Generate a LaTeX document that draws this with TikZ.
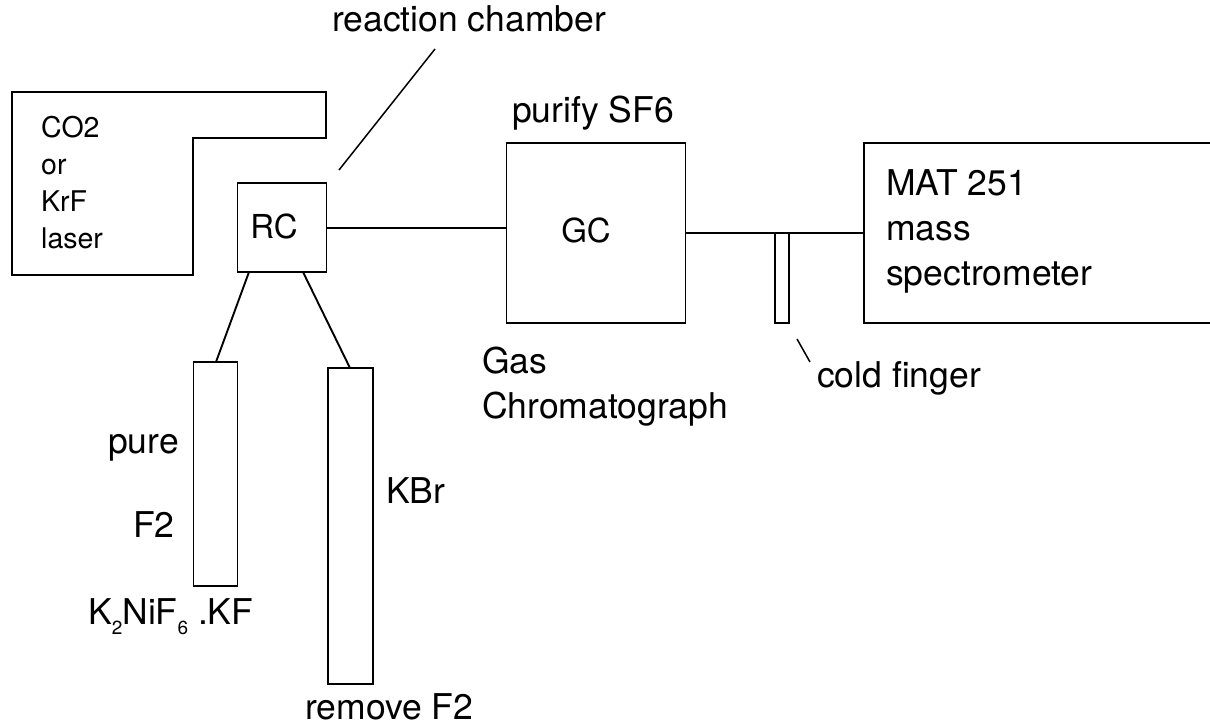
\documentclass[tikz,border=0pt]{standalone}
\usepackage{fontspec}
\setmainfont{TeX Gyre Heros}
\begin{document}
\begin{tikzpicture}[x=1pt,y=-1pt,
  ln/.style={line width=1.9pt},
  pt/.style={line width=1.5pt},
  bx/.style={draw,line width=1.9pt,inner sep=0pt,outer sep=0pt},
  lbl/.style={anchor=base west,inner sep=0pt,font=\fontsize{35.5}{40}\selectfont},
  blbl/.style={anchor=center,inner sep=0pt,font=\fontsize{33}{40}\selectfont},
  slbl/.style={anchor=base west,inner sep=0pt,font=\fontsize{28.5}{36}\selectfont}]
\useasboundingbox (0,0) rectangle (1210,725);
% laser
\draw[ln] (12,92) -- (326,92) -- (326,138) -- (193,138) -- (193,275) -- (12,275) -- cycle;
\node[slbl] (co2) at (41,137) {CO2};
\node[slbl] (or) at (41,174) {or};
\node[slbl] (krf) at (41,211) {KrF};
\node[slbl] (laser) at (41,248) {laser};
% RC
\node[bx,minimum width=89pt,minimum height=89pt] (rc) at (282,227.5) {};
\node[blbl] (rct) at (274,226) {RC};
% GC
\node[bx,minimum width=179pt,minimum height=180pt] (gc) at (596,233) {};
\node[blbl] (gct) at (586,230) {GC};
% MAT
\draw[ln] (1212,143) -- (864,143) -- (864,323) -- (1212,323);
\coordinate (matl) at (864,233);
\node[lbl] (mat1) at (886,195) {MAT 251};
\node[lbl] (mat2) at (886,240) {mass};
\node[lbl] (mat3) at (886,285) {spectrometer};
% connections
\draw[ln] (rc.east |- 0,228) -- (gc.west |- 0,228);
\draw[ln] (gc.east |- 0,233) -- (matl);
% cold finger
\node[bx,minimum width=14pt,minimum height=90pt] (cf) at (782,278) {};
\coordinate (cfp1) at (797,339);
\coordinate (cfp2) at (810,362);
\draw[pt] (cfp1) -- (cfp2);
\node[lbl] (cft) at (817,387) {cold finger};
% labels
\node[lbl] (rchl) at (332,32) {reaction chamber};
\coordinate (rch1) at (435,49);
\coordinate (rch2) at (339,170);
\draw[pt] (rch1) -- (rch2);
\node[lbl] (pur) at (512,122) {purify SF6};
\node[lbl] (gas) at (482,373) {Gas};
\node[lbl] (chrom) at (482,418) {Chromatograph};
% tubes
\node[bx,minimum width=44pt,minimum height=224pt] (t1) at (215.5,474) {};
\node[bx,minimum width=45pt,minimum height=316pt] (t2) at (350.5,526) {};
\draw[ln] (249,272) -- (216,362);
\draw[ln] (303,272) -- (350,368);
\node[lbl] (pure) at (108,453) {pure};
\node[lbl] (f2) at (133,537) {F2};
\node[lbl] (kbr) at (386,503) {KBr};
\node[lbl] (knif) at (88,624) {K\raisebox{-0.3em}{\fontsize{19}{20}\selectfont 2}NiF\raisebox{-0.3em}{\fontsize{19}{20}\selectfont 6} .KF};
\node[lbl] (rem) at (305,719) {remove F2};
\end{tikzpicture}
\end{document}
